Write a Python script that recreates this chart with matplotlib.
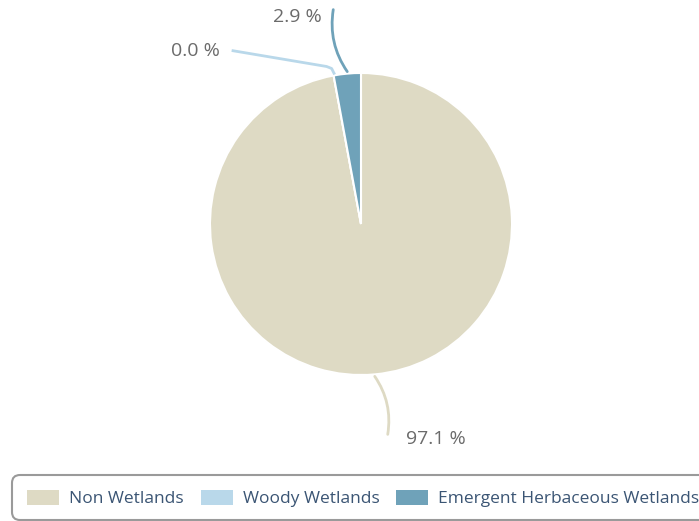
import numpy as np
import matplotlib.pyplot as plt
from matplotlib.patches import FancyBboxPatch

plt.rcParams['font.family'] = ['Open Sans', 'DejaVu Sans']

labels = ['Non Wetlands', 'Woody Wetlands', 'Emergent Herbaceous Wetlands']
values = [97.1, 0.0, 2.9]
colors = ['#dedac4', '#b9d8ea', '#6fa2b9']
pct_text = ['97.1 %', '0.0 %', '2.9 %']

W, H = 699, 521
fig = plt.figure(figsize=(W / 100, H / 100), dpi=100)
ax = fig.add_axes([0, 0, 1, 1])

cx, cy, r = 361, H - 224, 151
wedges, _ = ax.pie(values, colors=colors, startangle=90, counterclock=False,
                   radius=r, center=(cx, cy), frame=True,
                   wedgeprops=dict(edgecolor='white', linewidth=1.5))
ax.set_xlim(0, W)
ax.set_ylim(0, H)
ax.set_aspect('equal')
ax.axis('off')

lab_col = '#6b6b6b'

# Non Wetlands label (below)
w = wedges[0]
ang = np.deg2rad((w.theta1 + w.theta2) / 2)
ex, ey = cx + r * np.cos(ang), cy + r * np.sin(ang) - 2
ax.annotate('', xy=(ex, ey), xytext=(ex + 13, ey - 58),
            arrowprops=dict(arrowstyle='-', color=colors[0], lw=2, shrinkA=0,
                            shrinkB=0, connectionstyle='arc3,rad=0.2'))
ax.text(ex + 31, ey - 63, pct_text[0], ha='left', va='center', fontsize=14,
        color=lab_col)

# Woody Wetlands label (zero slice, left of top)
w = wedges[1]
ang = np.deg2rad(w.theta1)
ex, ey = cx + r * np.cos(ang) + 1, cy + r * np.sin(ang) + 1
ax.plot([ex, ex - 3, ex - 8, ex - 103], [ey, ey + 6, ey + 8, ey + 24],
        color=colors[1], lw=2, solid_capstyle='butt', solid_joinstyle='round')
ax.text(ex - 115, ey + 23, pct_text[1], ha='right', va='center', fontsize=14,
        color=lab_col)

# Emergent label (top)
w = wedges[2]
ang = np.deg2rad((w.theta1 + w.theta2) / 2)
ex, ey = cx + r * np.cos(ang), cy + r * np.sin(ang) + 2
ax.annotate('', xy=(ex, ey), xytext=(ex - 14, ey + 62),
            arrowprops=dict(arrowstyle='-', color=colors[2], lw=2, shrinkA=0,
                            shrinkB=0, connectionstyle='arc3,rad=0.2'))
ax.text(ex - 26, ey + 55, pct_text[2], ha='right', va='center', fontsize=14,
        color=lab_col)

box = FancyBboxPatch((12, 1), 720, 45, boxstyle='round,pad=0,rounding_size=8',
                     transform=None, facecolor='white', edgecolor='#9a9a9a',
                     lw=1.5)
fig.patches.append(box)

handles = [FancyBboxPatch((0, 0), 1, 1, boxstyle='round,pad=0,rounding_size=0.2',
                          facecolor=c, edgecolor='none') for c in colors]
leg = fig.legend(handles, labels, ncol=3, loc='center left',
                 bbox_to_anchor=(27 / W, 22.5 / H), frameon=False,
                 fontsize=12.5, handlelength=1.84, handleheight=1.0,
                 handletextpad=0.58, columnspacing=0.98, labelcolor='#3b5574',
                 borderpad=0, borderaxespad=0)

fig.savefig('out.png', dpi=100)
